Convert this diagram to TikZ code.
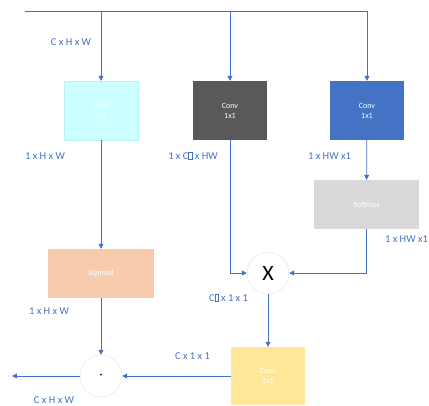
\documentclass[tikz,border=0pt]{standalone}
\usepackage{fontspec}
\setmainfont{Carlito}
\usepackage{tikz}
\usetikzlibrary{arrows.meta,positioning,calc}
\definecolor{gcLine}{HTML}{4472C4}
\definecolor{gcCyan}{HTML}{CCFFFF}
\definecolor{gcCyanEdge}{HTML}{B8F4F4}
\definecolor{gcDark}{HTML}{595959}
\definecolor{gcBlue}{HTML}{4472C4}
\definecolor{gcGray}{HTML}{D9D9D9}
\definecolor{gcPeach}{HTML}{F8CBAD}
\definecolor{gcSand}{HTML}{FFE699}
\definecolor{gcRing}{HTML}{E2E2E2}
\newcommand\nglyph{{\setlength{\fboxsep}{0pt}\setlength{\fboxrule}{0.3pt}\fbox{\vphantom{C}\hspace{3.5pt}}}}

\begin{document}
\begin{tikzpicture}[x=1pt,y=-1pt,
    flow/.style={draw=gcLine,line width=.8pt,-{Triangle[width=5pt,length=5pt]}},
    wire/.style={draw=gcLine,line width=.8pt},
    blk/.style={minimum width=74pt,minimum height=59pt,inner sep=0pt,
      text=white,font=\fontsize{8}{10}\selectfont,align=center},
    op/.style={circle,draw=gcRing,fill=white,minimum size=42pt,inner sep=0pt},
    dim/.style={text=gcLine,font=\fontsize{10.5}{12}\selectfont,inner sep=0pt}]
  \useasboundingbox (0,0) rectangle (429,406);
  % input line and split points
  \coordinate (in) at (25,11);
  \coordinate (s1) at (101,11);
  \coordinate (s2) at (230,11);
  \coordinate (s3) at (367,11);
  \coordinate (out) at (12,376);
  % blocks
  \node[blk,fill=gcCyan,draw=gcCyanEdge] (convA) at (101,110.5) {Conv\\1x1};
  \node[blk,fill=gcDark] (convB) at (230,110.5) {Conv\\1x1};
  \node[blk,fill=gcBlue] (convC) at (367,110.5) {Conv\\1x1};
  \node[blk,fill=gcGray,minimum width=105pt,minimum height=49pt] (soft) at (366.5,204.5) {Softmax};
  \node[blk,fill=gcPeach,minimum width=106pt,minimum height=49pt] (sig) at (101,273.5) {Sigmoid};
  \node[blk,fill=gcSand,minimum height=58pt] (convD) at (268,376) {Conv\\1x1};
  \node[op,font=\fontsize{22}{22}\selectfont] (mul) at (268,273) {X};
  \node[op,font=\fontsize{16}{16}\selectfont] (dot) at (101,376) {$\cdot$};
  % connectors
  \draw[wire] (in) -- (s3);
  \draw[flow] (s1) -- (convA);
  \draw[flow] (s2) -- (convB);
  \draw[flow] (s3) -- (convC);
  \draw[flow] (convC) -- (soft);
  \draw[flow] (convA) -- (sig);
  \draw[flow] (convB.south) |- (mul.west);
  \draw[flow] (soft.south) |- (mul.east);
  \draw[flow] (mul) -- (mul |- convD.north);
  \draw[flow] (convD.west |- dot) -- (dot);
  \draw[flow] (sig) -- (dot);
  \draw[flow] (dot) -- (out);
  % shapes
  \node[dim] (dIn) at (71,42) {C x H x W};
  \node[dim] (dA) at (45,156) {1 x H x W};
  \node[dim] (dB) at (193,156) {1 x C\nglyph{} x HW};
  \node[dim] (dC) at (329.5,156) {1 x HW x1};
  \node[dim] (dS) at (406.5,239) {1 x HW x1};
  \node[dim] (dSig) at (49,311) {1 x H x W};
  \node[dim] (dMul) at (228.5,298) {C\nglyph{} x 1 x 1};
  \node[dim] (dD) at (192.5,356) {C x 1 x 1};
  \node[dim] (dOut) at (54,400) {C x H x W};
\end{tikzpicture}
\end{document}
